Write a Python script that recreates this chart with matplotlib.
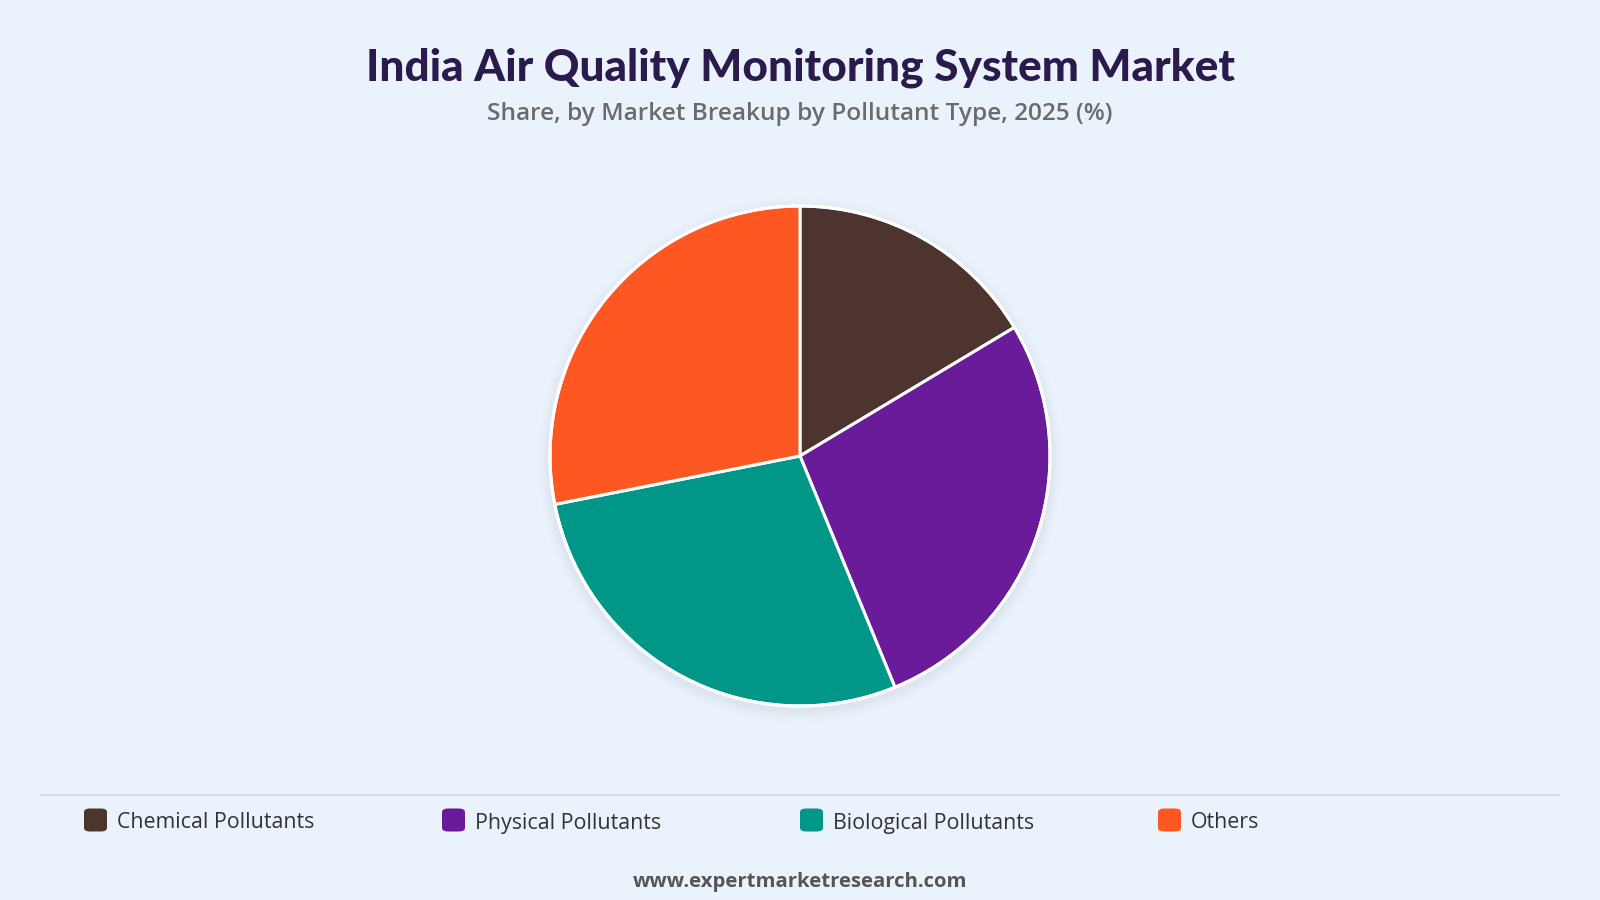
import matplotlib.pyplot as plt
from matplotlib.patches import FancyBboxPatch, Circle
from matplotlib.lines import Line2D

# data
categories = ["Chemical Pollutants", "Physical Pollutants", "Biological Pollutants", "Others"]
shares = [16.4, 27.4, 28.1, 28.1]
colors = ["#4E342E", "#6A1B9A", "#009688", "#FF5722"]

title = "India Air Quality Monitoring System Market"
subtitle = "Share, by Market Breakup by Pollutant Type, 2025 (%)"
footer = "www.expertmarketresearch.com"

W, H = 1600, 900
bg = "#EAF2FB"

fig = plt.figure(figsize=(16, 9), dpi=100)
fig.patch.set_facecolor(bg)

# title block
fig.text(0.5, 1 - 68 / H, title, ha="center", va="center", fontsize=31.8,
         fontweight="black", family="Lato", color="#2B1B4C")
fig.text(0.5, 1 - 114 / H, subtitle, ha="center", va="center", fontsize=17.6,
         fontweight="semibold", family="Open Sans", color="#6B6B6B")

# pie (axes a bit larger than the pie so the shadow fits)
cx, cy, r = 800, 456, 250
m = 1.1
ax = fig.add_axes([(cx - r * m) / W, (H - cy - r * m) / H, 2 * r * m / W, 2 * r * m / H])
ax.set_aspect("equal")
ax.axis("off")
# soft shadow behind the pie
for k, a in enumerate([0.05, 0.04, 0.03, 0.02]):
    ax.add_patch(Circle((0.0, -0.015), 1.0 + 0.012 * (k + 1), color="#9AAABD",
                        alpha=a, lw=0, zorder=0))
ax.pie(shares, colors=colors, startangle=90, counterclock=False, radius=1.0,
       wedgeprops=dict(edgecolor="white", linewidth=2.2))
ax.add_patch(Circle((0, 0), 1.0, fill=False, edgecolor="white", lw=2.2, zorder=5))
ax.set_xlim(-m, m)
ax.set_ylim(-m, m)

# separator line
fig.add_artist(Line2D([41 / W, 1559 / W], [1 - 795 / H] * 2, color="#D9DCE0", lw=1.5))

# legend
x0, col_w, ly = 84, 358, 820
box = 23
for i, (name, c) in enumerate(zip(categories, colors)):
    x = x0 + i * col_w
    fig.add_artist(FancyBboxPatch((x / W, (H - ly - box / 2) / H), box / W, box / H,
                                  boxstyle="round,pad=0,rounding_size=0.004",
                                  facecolor=c, edgecolor="none",
                                  transform=fig.transFigure))
    fig.text((x + box + 10) / W, 1 - (ly + 3) / H, name, ha="left", va="center",
             fontsize=15.4, family="Open Sans", color="#333333")

fig.text(0.5, 1 - 882 / H, footer, ha="center", va="center", fontsize=14.6,
         fontweight="bold", family="Open Sans", color="#555555")

fig.savefig("out.png", dpi=100, facecolor=bg)
